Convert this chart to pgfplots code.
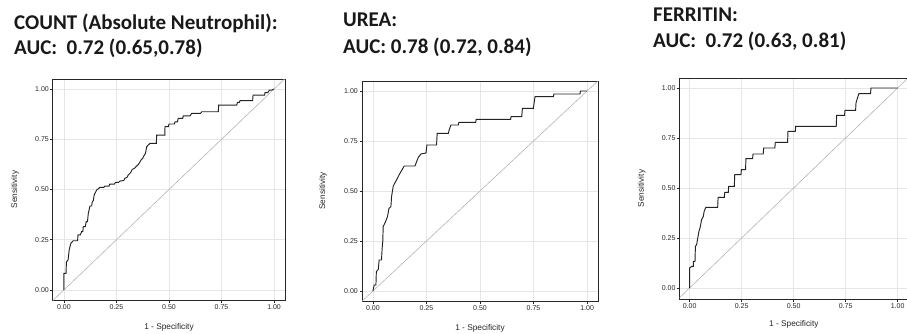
\documentclass[border=0pt]{standalone}
\usepackage{fontspec}
\setmainfont{Liberation Sans}
\newfontfamily\titlefont{Carlito}
\usepackage{pgfplots}
\pgfplotsset{compat=1.18}
\definecolor{curvecol}{RGB}{35,35,35}
\definecolor{diagcol}{RGB}{180,180,180}
\definecolor{gridcol}{RGB}{230,230,230}
\pgfplotsset{rocstyle/.style={
  scale only axis,
  axis line style={black!85, line width=1pt},
  xtick={0,0.25,0.5,0.75,1}, ytick={0,0.25,0.5,0.75,1},
  xticklabels={0.00,0.25,0.50,0.75,1.00},
  yticklabels={0.00,0.25,0.50,0.75,1.00},
  tick pos=left, tick align=outside, major tick length=2.5pt,
  tick style={black!85, line width=0.6pt},
  grid=major, grid style={gridcol, line width=0.8pt},
  ticklabel style={font=\fontsize{7}{8}\selectfont, inner sep=1.5pt, text=black!85},
  label style={font=\fontsize{8.3}{9}\selectfont, text=black!85},
  xlabel={1 - Specificity}, ylabel={Sensitivity},
  ymin=-0.05, ymax=1.05,
}}
\begin{document}
\begin{tikzpicture}
\useasboundingbox (0,0) rectangle (907pt,333pt);
% ---------- panel 1
\begin{axis}[rocstyle, at={(53pt,33pt)}, anchor=south west,
  width=232pt, height=221pt, xmin=-0.052, xmax=1.052,
  xlabel style={at={(axis description cs:0.5,-0.122)}, anchor=center},
  ylabel style={at={(axis description cs:-0.164,0.5)}, anchor=center}]
\addplot[diagcol, line width=0.6pt] coordinates {(-0.1,-0.1)(1.1,1.1)};
\addplot[curvecol, line width=0.95pt] coordinates {
(0,0)(0,0.083)(0.010,0.083)(0.012,0.14)(0.02,0.15)(0.025,0.2)(0.033,0.232)(0.044,0.245)(0.065,0.245)(0.067,0.274)(0.078,0.274)(0.084,0.29)(0.09,0.29)(0.092,0.315)(0.102,0.315)(0.106,0.34)(0.112,0.34)(0.116,0.381)(0.124,0.418)(0.132,0.418)(0.135,0.439)(0.14,0.445)(0.144,0.473)(0.156,0.498)(0.165,0.505)(0.171,0.511)(0.19,0.511)(0.195,0.517)(0.215,0.517)(0.218,0.527)(0.24,0.527)(0.245,0.535)(0.26,0.535)(0.267,0.542)(0.285,0.545)(0.29,0.556)(0.3,0.56)(0.306,0.572)(0.318,0.585)(0.325,0.6)(0.335,0.605)(0.346,0.617)(0.355,0.625)(0.367,0.647)(0.375,0.655)(0.378,0.663)(0.388,0.68)(0.394,0.713)(0.4,0.72)(0.41,0.73)(0.44,0.73)(0.441,0.771)(0.48,0.771)(0.481,0.813)(0.497,0.813)(0.5,0.826)(0.525,0.826)(0.529,0.837)(0.54,0.837)(0.544,0.854)(0.565,0.854)(0.568,0.866)(0.6,0.866)(0.608,0.879)(0.65,0.879)(0.656,0.887)(0.735,0.887)(0.736,0.92)(0.822,0.92)(0.826,0.934)(0.835,0.934)(0.838,0.942)(0.898,0.942)(0.9,0.97)(0.955,0.97)(0.957,0.982)(0.97,0.982)(0.978,0.995)(0.99,0.995)(1,1)};
\end{axis}
% ---------- panel 2
\begin{axis}[rocstyle, at={(362pt,32pt)}, anchor=south west,
  width=236pt, height=220pt, xmin=-0.051, xmax=1.051,
  xlabel style={at={(axis description cs:0.5,-0.123)}, anchor=center},
  ylabel style={at={(axis description cs:-0.165,0.5)}, anchor=center}]
\addplot[diagcol, line width=0.6pt] coordinates {(-0.1,-0.1)(1.1,1.1)};
\addplot[curvecol, line width=0.95pt] coordinates {
(0,0)(0.006,0.03)(0.014,0.03)(0.016,0.097)(0.025,0.108)(0.029,0.155)(0.04,0.155)(0.043,0.213)(0.046,0.25)(0.048,0.322)(0.059,0.347)(0.068,0.372)(0.075,0.413)(0.084,0.422)(0.087,0.472)(0.095,0.525)(0.11,0.555)(0.126,0.588)(0.137,0.608)(0.146,0.625)(0.196,0.625)(0.2,0.635)(0.204,0.647)(0.212,0.668)(0.224,0.685)(0.248,0.69)(0.252,0.73)(0.297,0.73)(0.3,0.788)(0.352,0.788)(0.356,0.805)(0.364,0.83)(0.399,0.83)(0.401,0.843)(0.48,0.843)(0.482,0.858)(0.643,0.858)(0.645,0.872)(0.695,0.872)(0.698,0.913)(0.749,0.913)(0.757,0.972)(0.843,0.972)(0.845,0.985)(0.967,0.985)(0.969,1.0)(1,1)};
\end{axis}
% ---------- panel 3
\begin{axis}[rocstyle, at={(679.6pt,34pt)}, anchor=south west,
  width=228.4pt, height=221pt, xmin=-0.048, xmax=1.05, ymin=-0.055,
  xlabel style={at={(axis description cs:0.5,-0.113)}, anchor=center},
  ylabel style={at={(axis description cs:-0.166,0.5)}, anchor=center}]
\addplot[diagcol, line width=0.6pt] coordinates {(-0.1,-0.1)(1.1,1.1)};
\addplot[curvecol, line width=0.95pt] coordinates {
(0,0)(0,0.1)(0.01,0.108)(0.018,0.108)(0.018,0.133)(0.026,0.133)(0.028,0.208)(0.034,0.217)(0.038,0.242)(0.045,0.283)(0.05,0.3)(0.058,0.342)(0.066,0.358)(0.07,0.383)(0.078,0.403)(0.135,0.403)(0.137,0.453)(0.167,0.453)(0.169,0.478)(0.186,0.478)(0.188,0.508)(0.215,0.508)(0.217,0.567)(0.247,0.567)(0.249,0.592)(0.269,0.592)(0.271,0.647)(0.303,0.647)(0.305,0.67)(0.354,0.67)(0.356,0.7)(0.41,0.7)(0.412,0.728)(0.471,0.728)(0.473,0.783)(0.508,0.783)(0.51,0.808)(0.705,0.808)(0.707,0.863)(0.745,0.863)(0.747,0.888)(0.798,0.888)(0.8,0.925)(0.806,0.947)(0.814,0.972)(0.87,0.972)(0.872,1.0)(1,1)};
\end{axis}
% ---------- titles
\begin{scope}[every node/.style={anchor=base west, inner sep=0pt, font=\titlefont\bfseries\fontsize{21}{26}\selectfont, text=black!90}]
\node at (14pt,304pt) {COUNT (Absolute Neutrophil):};
\node at (14pt,279pt) {AUC:\ \ 0.72 (0.65,0.78)};
\node at (343pt,306pt) {UREA:};
\node at (343pt,280pt) {AUC: 0.78 (0.72, 0.84)};
\node at (653pt,312pt) {FERRITIN:};
\node at (653pt,286pt) {AUC:\ \ 0.72 (0.63, 0.81)};
\end{scope}
\end{tikzpicture}
\end{document}
